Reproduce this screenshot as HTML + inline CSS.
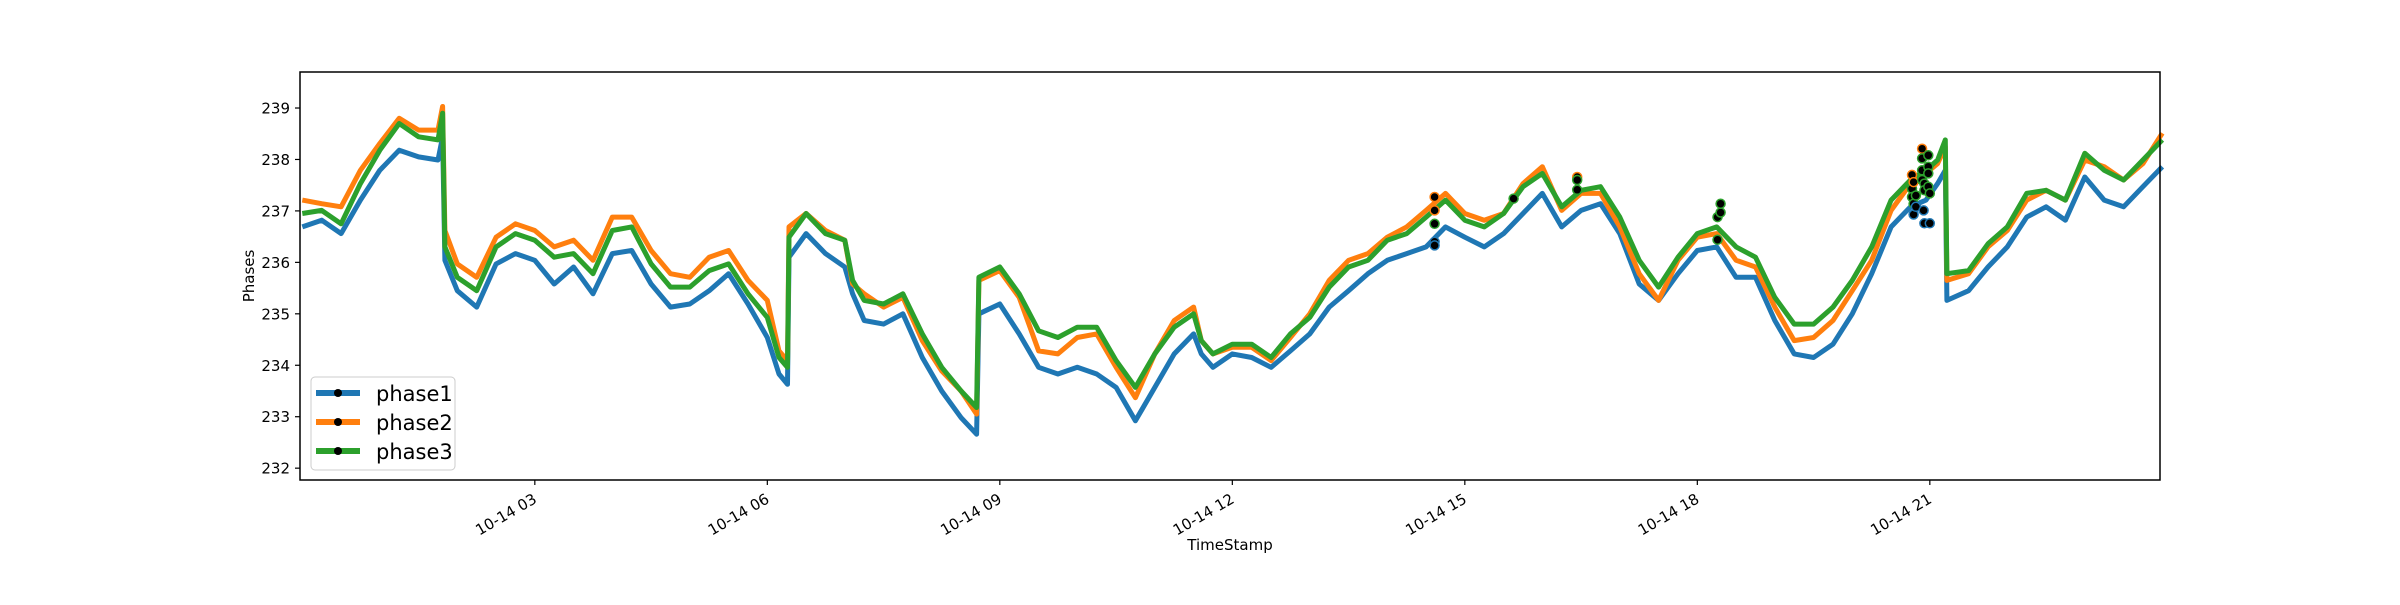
<!DOCTYPE html>
<html><head><meta charset="utf-8"><style>
html,body{margin:0;padding:0;background:#fff;}
svg text{font-family:"DejaVu Sans","Liberation Sans",sans-serif;fill:#000;}
</style></head><body>
<svg id="chart" width="2400" height="600" viewBox="0 0 2400 600" xmlns="http://www.w3.org/2000/svg">
<rect x="0" y="0" width="2400" height="600" fill="#fff"/>
<g id="series"></g>
<g id="markers"></g>
<rect x="300" y="72" width="1860" height="408" fill="none" stroke="#000" stroke-width="1.5"/>
<g id="yaxis"></g>
<g id="xaxis"></g>
<text x="1230" y="550" font-size="15" text-anchor="middle">TimeStamp</text>
<text x="0" y="0" font-size="15" text-anchor="middle" transform="translate(254,276) rotate(-90)">Phases</text>
<g>
<rect x="311" y="377" width="144" height="93" rx="4" fill="#fff" fill-opacity="0.8" stroke="#cccccc" stroke-width="1"/>
<g>
<line x1="316" y1="393" x2="360" y2="393" stroke="#1f77b4" stroke-width="6"/>
<circle cx="338" cy="393" r="4" fill="#000"/>
<text x="376" y="401" font-size="21">phase1</text></g>
<g>
<line x1="316" y1="422" x2="360" y2="422" stroke="#ff7f0e" stroke-width="6"/>
<circle cx="338" cy="422" r="4" fill="#000"/>
<text x="376" y="430" font-size="21">phase2</text></g>
<g>
<line x1="316" y1="451" x2="360" y2="451" stroke="#2ca02c" stroke-width="6"/>
<circle cx="338" cy="451" r="4" fill="#000"/>
<text x="376" y="459" font-size="21">phase3</text></g>
</g>
</svg>
<script>
const hours = [0,0.25,0.5,0.75,1,1.25,1.5,1.75,1.81,1.84,2,2.25,2.5,2.75,3,3.25,3.5,3.75,4,4.25,4.5,4.75,5,5.25,5.5,5.75,6,6.15,6.26,6.28,6.5,6.75,7,7.1,7.25,7.5,7.75,8,8.25,8.5,8.7,8.73,9,9.25,9.5,9.75,10,10.25,10.5,10.75,11,11.25,11.5,11.6,11.75,12,12.25,12.5,12.75,13,13.25,13.5,13.75,14,14.25,14.5,14.75,15,15.25,15.5,15.75,16,16.25,16.5,16.75,17,17.25,17.5,17.75,18,18.25,18.5,18.75,19,19.25,19.5,19.75,20,20.25,20.5,20.75,20.95,21.1,21.2,21.22,21.5,21.75,22,22.25,22.5,22.75,23,23.25,23.5,23.75,24];
const phase1 = [236.69,236.82,236.56,237.21,237.79,238.18,238.05,237.99,238.44,236.04,235.45,235.13,235.97,236.17,236.04,235.58,235.91,235.39,236.17,236.23,235.58,235.13,235.19,235.45,235.78,235.19,234.54,233.83,233.63,236.10,236.56,236.17,235.91,235.39,234.87,234.80,235.00,234.15,233.50,232.98,232.66,235.00,235.19,234.61,233.96,233.83,233.96,233.83,233.57,232.92,233.57,234.22,234.61,234.22,233.96,234.22,234.15,233.96,234.28,234.61,235.13,235.45,235.78,236.04,236.17,236.30,236.69,236.49,236.30,236.56,236.95,237.34,236.69,237.01,237.14,236.56,235.58,235.26,235.78,236.23,236.30,235.71,235.71,234.87,234.22,234.15,234.41,235.00,235.78,236.69,237.08,237.21,237.53,237.79,235.26,235.45,235.91,236.30,236.88,237.08,236.82,237.66,237.21,237.08,237.47,237.86];
const phase2 = [237.21,237.14,237.08,237.79,238.31,238.80,238.57,238.57,239.03,236.62,235.97,235.71,236.49,236.75,236.62,236.30,236.43,236.04,236.88,236.88,236.23,235.78,235.71,236.10,236.23,235.65,235.26,234.28,234.09,236.69,236.95,236.62,236.43,235.58,235.39,235.13,235.32,234.48,233.89,233.50,233.05,235.65,235.84,235.32,234.28,234.22,234.54,234.61,233.96,233.37,234.22,234.87,235.13,234.48,234.22,234.35,234.35,234.09,234.54,235.00,235.65,236.04,236.17,236.49,236.69,237.01,237.34,236.95,236.82,236.95,237.53,237.86,237.01,237.34,237.34,236.69,235.78,235.26,236.04,236.49,236.56,236.04,235.91,235.13,234.48,234.54,234.87,235.45,236.04,237.01,237.53,237.73,237.92,238.25,235.65,235.78,236.30,236.62,237.21,237.40,237.21,237.99,237.86,237.60,237.92,238.51];
const phase3 = [236.95,237.01,236.75,237.53,238.18,238.70,238.44,238.38,238.90,236.30,235.71,235.45,236.30,236.56,236.43,236.10,236.17,235.78,236.62,236.69,235.97,235.52,235.52,235.84,235.97,235.39,234.93,234.15,233.96,236.49,236.95,236.56,236.43,235.65,235.26,235.19,235.39,234.61,233.96,233.50,233.18,235.71,235.91,235.39,234.67,234.54,234.74,234.74,234.09,233.57,234.22,234.74,235.00,234.48,234.22,234.41,234.41,234.15,234.61,234.93,235.52,235.91,236.04,236.43,236.56,236.88,237.21,236.82,236.69,236.95,237.47,237.73,237.08,237.40,237.47,236.88,236.04,235.52,236.10,236.56,236.69,236.30,236.10,235.32,234.80,234.80,235.13,235.65,236.30,237.21,237.60,237.79,237.99,238.38,235.78,235.84,236.36,236.69,237.34,237.40,237.21,238.12,237.79,237.60,237.99,238.38];
const markerHours = [14.61,14.61,14.61,14.61,14.61,15.63,16.45,16.45,16.45,18.26,18.26,18.30,18.30,20.77,20.77,20.77,20.79,20.79,20.79,20.82,20.82,20.90,20.90,20.90,20.90,20.93,20.93,20.93,20.98,20.98,20.98,20.98,21.0,21.0,20.92];
const markerValues = [237.27,237.01,236.75,236.40,236.33,237.24,237.66,237.60,237.41,236.44,236.88,236.97,237.14,237.70,237.43,237.27,237.56,237.14,236.93,237.30,237.08,238.21,238.02,237.79,237.60,237.53,237.40,236.76,238.08,237.86,237.73,237.47,237.34,236.76,237.01];
const markerPhase = [1,1,2,0,0,2,1,2,2,2,2,2,2,1,2,2,1,2,0,2,0,1,2,2,2,2,2,0,2,2,2,2,2,0,0];
const yTicks = [232,233,234,235,236,237,238,239];
const xTickHours = [3,6,9,12,15,18,21];
const xTickLabels = ["10-14 03","10-14 06","10-14 09","10-14 12","10-14 15","10-14 18","10-14 21"];

const X0=300, X1=2160, Y0=72, Y1=480;
const T0=-0.03, T1=23.97, V0=231.77, V1=239.7;
function xs(t){ return X0 + (t-T0)/(T1-T0)*(X1-X0); }
function ys(v){ return Y1 - (v-V0)/(V1-V0)*(Y1-Y0); }
const NS="http://www.w3.org/2000/svg";
const colors=["#1f77b4","#ff7f0e","#2ca02c"];
const names=["phase1","phase2","phase3"];
const seriesG=document.getElementById('series');
[phase1,phase2,phase3].forEach(function(arr,i){
  let d="";
  for(let k=0;k<arr.length;k++){ d+=(k?"L":"M")+xs(hours[k]).toFixed(1)+","+ys(arr[k]).toFixed(1); }
  const p=document.createElementNS(NS,'path');
  p.setAttribute('d',d);
  p.setAttribute('fill','none');
  p.setAttribute('stroke',colors[i]);
  p.setAttribute('stroke-width','5');
  p.setAttribute('stroke-linejoin','round');
  
  
  seriesG.appendChild(p);
});
const mG=document.getElementById('markers');
for(let k=0;k<markerHours.length;k++){
  const c=document.createElementNS(NS,'circle');
  c.setAttribute('cx',xs(markerHours[k]).toFixed(1));
  c.setAttribute('cy',ys(markerValues[k]).toFixed(1));
  c.setAttribute('r','4.5');
  c.setAttribute('fill','#000');
  c.setAttribute('stroke',colors[markerPhase[k]]);
  c.setAttribute('stroke-width','1.5');
  
  
  mG.appendChild(c);
}
const yG=document.getElementById('yaxis');
yTicks.forEach(function(v){
  const y=ys(v);
  const l=document.createElementNS(NS,'line');
  l.setAttribute('x1',X0-5); l.setAttribute('x2',X0); l.setAttribute('y1',y); l.setAttribute('y2',y);
  l.setAttribute('stroke','#000'); l.setAttribute('stroke-width','1.2');
  
  
  yG.appendChild(l);
  const t=document.createElementNS(NS,'text');
  t.setAttribute('x',X0-10); t.setAttribute('y',y+5.5);
  t.setAttribute('font-size','15'); t.setAttribute('text-anchor','end');
  t.textContent=String(v);
  
  
  yG.appendChild(t);
});
const xG=document.getElementById('xaxis');
xTickHours.forEach(function(h,i){
  const x=xs(h);
  const l=document.createElementNS(NS,'line');
  l.setAttribute('x1',x); l.setAttribute('x2',x); l.setAttribute('y1',Y1); l.setAttribute('y2',Y1+5);
  l.setAttribute('stroke','#000'); l.setAttribute('stroke-width','1.2');
  
  
  xG.appendChild(l);
  const t=document.createElementNS(NS,'text');
  t.setAttribute('x',0); t.setAttribute('y',0);
  t.setAttribute('font-size','15'); t.setAttribute('text-anchor','end');
  t.setAttribute('transform','translate('+(x+3)+','+(Y1+22)+') rotate(-30)');
  t.textContent=xTickLabels[i];
  
  
  xG.appendChild(t);
});
</script>
</body></html>
